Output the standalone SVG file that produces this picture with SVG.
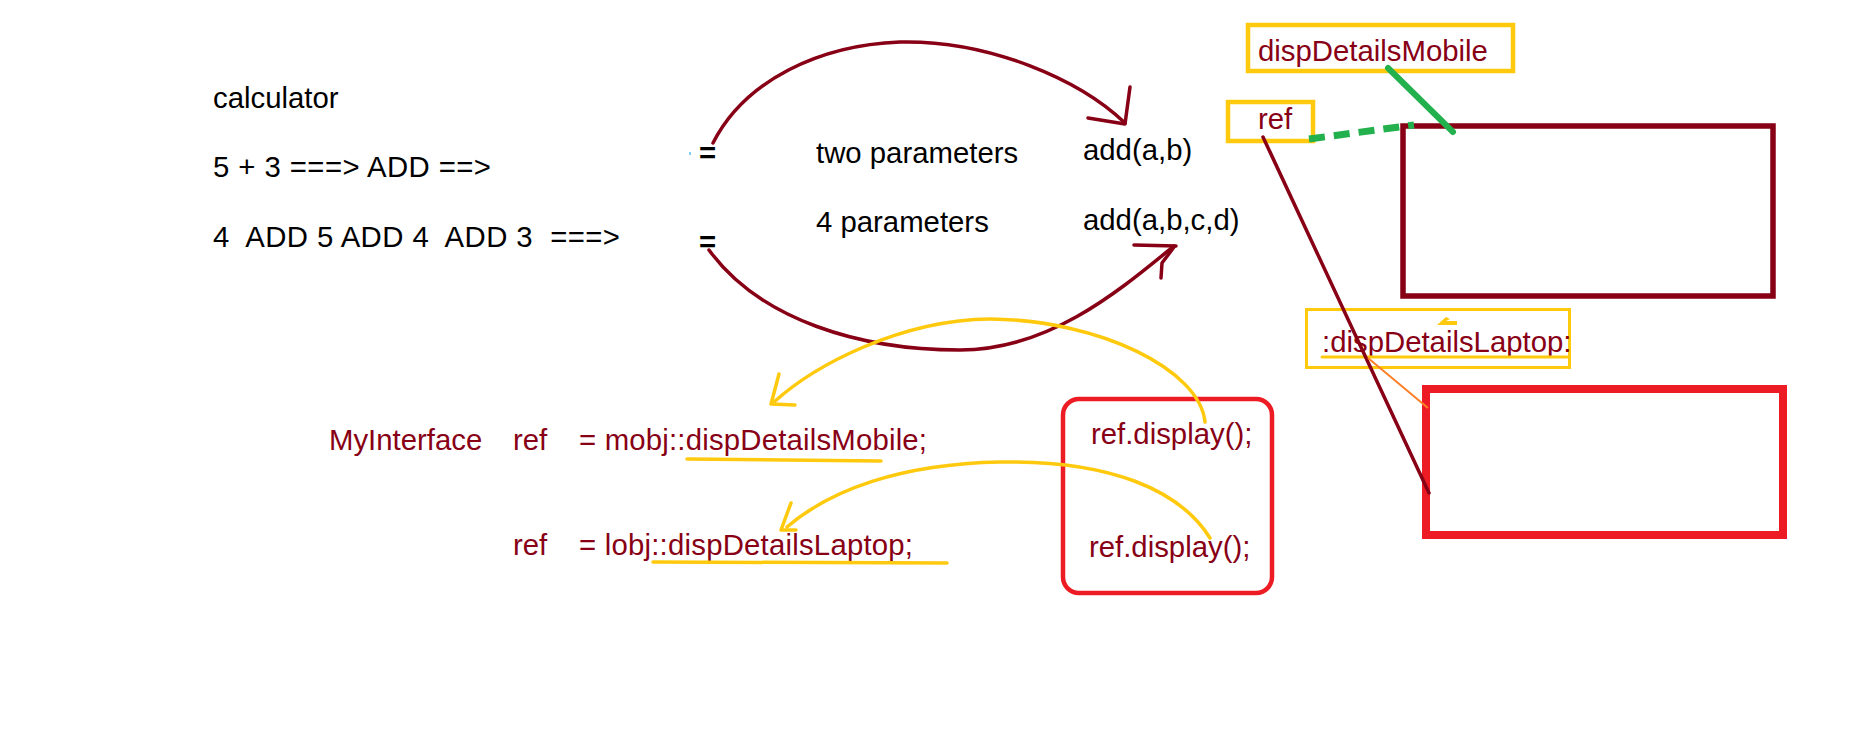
<svg xmlns="http://www.w3.org/2000/svg" width="1852" height="743" viewBox="0 0 1852 743">
<style>
text{font-family:"Liberation Sans",Arial,sans-serif;font-size:29.33px}
.k{fill:#000}
.r{fill:#880015}
.ink{fill:none;stroke-linecap:round;stroke-linejoin:round}
.dr{stroke:#880015;stroke-width:3.5}
.yl{stroke:#ffc90e;stroke-width:3.5}
.box{fill:none;stroke:#ffc90e}
</style>
<rect width="1852" height="743" fill="#fff"/>
<g id="calc-notes">
<text class="k" x="213" y="108">calculator</text>
<text class="k" x="213" y="177" textLength="278" lengthAdjust="spacing">5 + 3 ===&gt; ADD ==&gt;</text>
<text class="k" x="213" y="247" xml:space="preserve" textLength="407" lengthAdjust="spacing">4  ADD 5 ADD 4  ADD 3  ===&gt;</text>
<text class="k" x="699" y="163" font-weight="bold">=</text>
<text class="k" x="699" y="252" font-weight="bold">=</text>
<line x1="690" y1="152" x2="690" y2="155" stroke="#00a2e8" stroke-width="1"/>
</g>
<g id="overloads">
<text class="k" x="816" y="163">two parameters</text>
<text class="k" x="1083" y="160">add(a,b)</text>
<text class="k" x="816" y="232">4 parameters</text>
<text class="k" x="1083" y="230">add(a,b,c,d)</text>
</g>
<g id="code">
<text class="r" x="329" y="450">MyInterface</text>
<text class="r" x="513" y="450">ref</text>
<text class="r" x="579" y="450" textLength="348" lengthAdjust="spacing">= mobj::dispDetailsMobile;</text>
<text class="r" x="513" y="555">ref</text>
<text class="r" x="579" y="555" textLength="334" lengthAdjust="spacing">= lobj::dispDetailsLaptop;</text>
</g>
<g id="calls">
<rect x="1063" y="399" width="209" height="194" rx="16" fill="none" stroke="#ed1c24" stroke-width="4.5"/>
<text class="r" x="1091" y="444">ref.display();</text>
<text class="r" x="1089" y="557">ref.display();</text>
</g>
<g id="mobile-label">
<rect class="box" x="1248" y="25" width="265" height="46" stroke-width="4.5"/>
<text class="r" x="1258" y="61">dispDetailsMobile</text>
</g>
<g id="ref-label">
<rect class="box" x="1228" y="102" width="85" height="39" stroke-width="4.5"/>
<text class="r" x="1258" y="129">ref</text>
</g>
<g id="mobile-object">
<rect x="1403" y="126" width="370" height="170" fill="none" stroke="#880015" stroke-width="5.5"/>
</g>
<g id="laptop-label">
<rect class="box" x="1306.5" y="309.5" width="263" height="58" stroke-width="3"/>
<text class="r" x="1322" y="352">:dispDetailsLaptop:</text>
</g>
<g id="laptop-object">
<rect x="1426" y="389" width="357" height="146" fill="none" stroke="#ed1c24" stroke-width="8"/>
</g>
<g id="connectors">
<path class="ink dr" d="M713,143 C745,80 820,45 900,42 C990,40 1080,80 1125,123"/>
<polyline class="ink dr" points="1088,118 1125,124 1130,87"/>
<path class="ink dr" d="M709,250 C760,320 860,350 960,350 C1050,350 1120,290 1174,246"/>
<polyline class="ink dr" points="1134,245 1176,246"/>
<polyline class="ink dr" points="1161,278 1162,263 1174,247"/>
<path class="ink yl" d="M1205,422 C1200,370 1100,320 990,319 C900,320 815,365 774,402"/>
<polyline class="ink yl" points="779,374 771,404 795,405"/>
<path class="ink yl" d="M1210,538 C1180,490 1110,460 1000,462 C900,464 830,490 787,527"/>
<polyline class="ink yl" points="791,503 781,530 796,530"/>
<line class="ink yl" x1="687" y1="459" x2="881" y2="461"/>
<line class="ink yl" x1="653" y1="562" x2="947" y2="563"/>
<line class="ink" x1="1322" y1="357" x2="1567" y2="357" stroke="#ffc90e" stroke-width="3"/>
<path d="M1437,325 L1446,317 L1450,319 L1446,321 L1457,321 L1457,325 Z" fill="#ffc90e"/>
<line class="ink" x1="1388" y1="68" x2="1453" y2="132" stroke="#22b14c" stroke-width="6"/>
<line x1="1309" y1="139" x2="1414" y2="125" stroke="#22b14c" stroke-width="7" stroke-dasharray="16 9"/>
<line class="ink dr" x1="1263" y1="137" x2="1429" y2="493" stroke-width="4"/>
<line x1="1368" y1="358" x2="1428" y2="408" stroke="#ff7f27" stroke-width="2"/>
</g>
</svg>
